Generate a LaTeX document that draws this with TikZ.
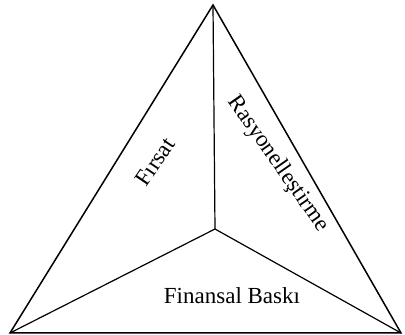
\documentclass[tikz,border=0pt]{standalone}
\usepackage{fontspec}
\setmainfont{Liberation Serif}
\begin{document}
\begin{tikzpicture}[x=1pt,y=1pt,
  edge/.style={line width=1.5pt,line join=miter},
  inner/.style={line width=1.2pt},
  lbl/.style={inner sep=0pt,font=\fontsize{23}{27}\selectfont}]
\useasboundingbox (0,0) rectangle (405,335);
\coordinate (T) at (213,330);
\coordinate (L) at (10,2);
\coordinate (R) at (401,2);
\coordinate (C) at (215,106);
\draw[edge] (T) -- (L) -- (R) -- cycle;
\draw[inner] (T) -- (C);
\draw[inner] (C) -- (L);
\draw[inner] (C) -- (R);
\node[lbl,rotate=56] (f) at (155,173) {Fırsat};
\node[lbl,rotate=-55] (r) at (278,171) {Rasyonelleştirme};
\node[lbl,anchor=base] (b) at (232,31) {Finansal Baskı};
\end{tikzpicture}
\end{document}
